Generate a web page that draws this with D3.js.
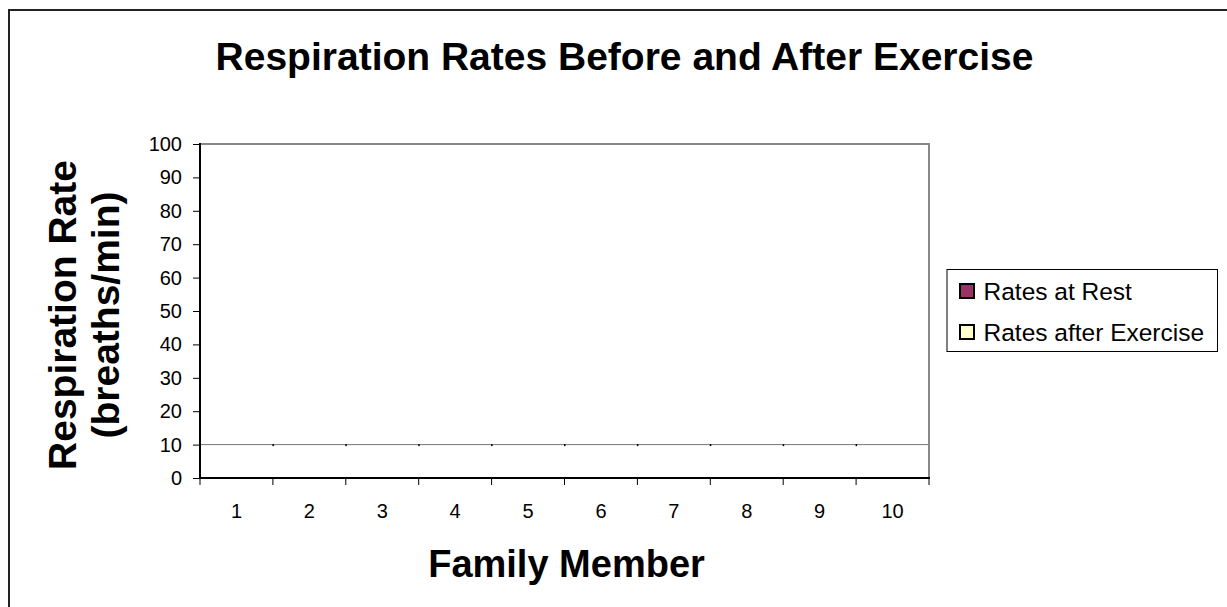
<!DOCTYPE html>
<html>
<head>
<meta charset="utf-8">
<script src="https://cdn.jsdelivr.net/npm/d3@7"></script>
<style>
  html, body { margin: 0; padding: 0; background: #fff; }
  svg { display: block; font-family: Arial, "Liberation Sans", sans-serif; }
</style>
</head>
<body>
<svg id="chart" width="1227" height="607"></svg>
<script>
// ---- data ----
const categories = ["1", "2", "3", "4", "5", "6", "7", "8", "9", "10"];
const restRates = [0, 0, 0, 0, 0, 0, 0, 0, 0, 0];
const exerciseRates = [0, 0, 0, 0, 0, 0, 0, 0, 0, 0];
const yTicks = [0, 10, 20, 30, 40, 50, 60, 70, 80, 90, 100];
const seriesNames = ["Rates at Rest", "Rates after Exercise"];
const seriesColors = ["#993366", "#FFFFCC"];
const titleText = "Respiration Rates Before and After Exercise";
const xTitle = "Family Member";
const yTitleLines = ["Respiration Rate", "(breaths/min)"];
const refLineValue = 10;

// ---- layout ----
const W = 1227, H = 607;
const plot = { left: 200, right: 929, top: 144, bottom: 478 };

const svg = d3.select("#chart");
svg.append("rect").attr("width", W).attr("height", H).attr("fill", "#fff");

// outer chart border (extends past the right/bottom edges)
svg.append("rect")
  .attr("x", 9).attr("y", 10).attr("width", 1400).attr("height", 800)
  .attr("fill", "none").attr("stroke", "#222").attr("stroke-width", 2);

const x = d3.scaleBand().domain(categories).range([plot.left, plot.right]).paddingInner(0.3).paddingOuter(0.3);
const xb = d3.scaleBand().domain(categories).range([plot.left, plot.right]);
const y = d3.scaleLinear().domain([0, 100]).range([plot.bottom, plot.top]);

function addText(parent, tx, ty, str, opts) {
  const g = parent.append("g")
    .attr("transform", `translate(${tx},${ty})` + (opts.rotate ? ` rotate(${opts.rotate})` : ""));
  return g.append("text")
    .attr("x", 0).attr("y", 0)
    .attr("text-anchor", opts.anchor || "start")
    .attr("font-size", opts.size)
    .attr("font-weight", opts.weight || "normal")
    .attr("fill", "#000")
    .text(str);
}

// plot area background
svg.append("rect")
  .attr("x", plot.left).attr("y", plot.top)
  .attr("width", plot.right - plot.left).attr("height", plot.bottom - plot.top)
  .attr("fill", "#fff");

// bars (values are empty / zero)
const sub = d3.scaleBand().domain([0, 1]).range([0, x.bandwidth()]);
[restRates, exerciseRates].forEach((vals, si) => {
  svg.append("g").selectAll("rect").data(vals).join("rect")
    .attr("x", (d, i) => x(categories[i]) + sub(si))
    .attr("width", sub.bandwidth())
    .attr("y", d => y(d))
    .attr("height", d => y(0) - y(d))
    .attr("fill", seriesColors[si])
    .attr("stroke", "#000").attr("stroke-width", d => d > 0 ? 1 : 0);
});

// reference line at 10
svg.append("line")
  .attr("x1", plot.left).attr("x2", plot.right)
  .attr("y1", y(refLineValue)).attr("y2", y(refLineValue))
  .attr("stroke", "#777").attr("stroke-width", 1);
svg.append("g").selectAll("rect").data(categories.slice(1)).join("rect")
  .attr("x", d => xb(d) - 0.5).attr("y", y(refLineValue) - 0.5)
  .attr("width", 1.5).attr("height", 2).attr("fill", "#000");

// plot border top & right (gray)
svg.append("path")
  .attr("d", `M${plot.left},${plot.top}H${plot.right}V${plot.bottom}`)
  .attr("fill", "none").attr("stroke", "#888").attr("stroke-width", 2);

// y axis
const yAxis = d3.axisLeft(y).tickValues(yTicks).tickSize(7).tickFormat("");
const yg = svg.append("g").attr("transform", `translate(${plot.left},0)`).call(yAxis);
yg.select(".domain").remove();
yg.selectAll(".tick line").attr("stroke", "#000").attr("stroke-width", 1);
yTicks.forEach(v => {
  addText(svg, 182, y(v) + 7, String(v), { size: 20, anchor: "end" });
});
svg.append("line").attr("x1", plot.left).attr("x2", plot.left)
  .attr("y1", plot.top - 1).attr("y2", plot.bottom + 1)
  .attr("stroke", "#000").attr("stroke-width", 2);

// x axis
const xAxis = d3.axisBottom(xb).tickSize(0).tickFormat("");
const xg = svg.append("g").attr("transform", `translate(0,${plot.bottom})`).call(xAxis);
xg.select(".domain").remove();
xg.selectAll(".tick line").remove();
const boundaries = categories.map(c => xb(c)).concat([xb(categories[categories.length - 1]) + xb.bandwidth()]);
svg.append("g").selectAll("line").data(boundaries).join("line")
  .attr("x1", d => d).attr("x2", d => d)
  .attr("y1", plot.bottom).attr("y2", plot.bottom + 7)
  .attr("stroke", "#000").attr("stroke-width", 1);
svg.append("line").attr("x1", plot.left - 1).attr("x2", plot.right + 1)
  .attr("y1", plot.bottom).attr("y2", plot.bottom)
  .attr("stroke", "#000").attr("stroke-width", 2);
categories.forEach(c => {
  addText(svg, xb(c) + xb.bandwidth() / 2, 518, c, { size: 20, anchor: "middle" });
});

// titles
addText(svg, 624.5, 70, titleText, { size: 39, weight: "bold", anchor: "middle" });
addText(svg, (plot.left + plot.right) / 2 + 2, 577, xTitle, { size: 38, weight: "bold", anchor: "middle" });
addText(svg, 76, 315, yTitleLines[0], { size: 39, weight: "bold", anchor: "middle", rotate: -90 });
addText(svg, 119, 315, yTitleLines[1], { size: 39, weight: "bold", anchor: "middle", rotate: -90 });

// legend
const lg = svg.append("g");
lg.append("rect").attr("x", 947).attr("y", 269.5).attr("width", 270.5).attr("height", 82)
  .attr("fill", "#fff").attr("stroke", "#000").attr("stroke-width", 1);
const legendRows = [{ cy: 291, base: 300 }, { cy: 332, base: 341 }];
seriesNames.forEach((name, i) => {
  lg.append("rect").attr("x", 960).attr("y", legendRows[i].cy - 7).attr("width", 14).attr("height", 14)
    .attr("fill", seriesColors[i]).attr("stroke", "#000").attr("stroke-width", 2);
  addText(lg, 983.5, legendRows[i].base, name, { size: 24.5, anchor: "start" });
});
</script>
</body>
</html>
